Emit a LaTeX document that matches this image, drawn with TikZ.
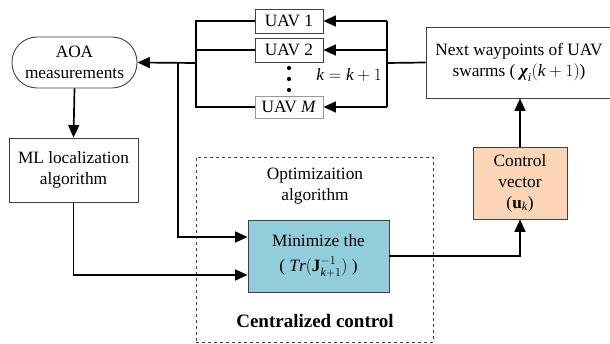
\documentclass[tikz,border=0pt]{standalone}
\usepackage{amsmath}
\usepackage{fontspec}
\setmainfont{Liberation Serif}
\usetikzlibrary{arrows.meta,calc}
\definecolor{minblue}{HTML}{92CDDC}
\definecolor{ctrlpeach}{HTML}{FBD5B5}
\definecolor{edge}{HTML}{404040}
\newcommand{\boldchi}{\text{\bfseries\itshape χ}}
\begin{document}
\begin{tikzpicture}[x=1pt,y=-1pt,
  font=\fontsize{17.3}{21}\selectfont,
  box/.style={draw=edge, line width=0.9pt, align=center, inner sep=0pt},
  wire/.style={line width=1.7pt, black},
  flow/.style={wire, -{Triangle[length=12.5pt,width=11pt]}},
  dotmark/.style={circle, fill=black, inner sep=1.5pt}]
\useasboundingbox (0,0) rectangle (610,344);

% UAV swarm
\node[box, minimum width=68pt, minimum height=24pt] (u1) at (289,21) {UAV 1};
\node[box, minimum width=68pt, minimum height=24pt] (u2) at (289,50) {UAV 2};
\node[box, draw=black!40, minimum width=68pt, minimum height=22pt] (um) at (289,107) {UAV \textit{M}};
\node[dotmark] (d1) at (289,68) {};
\node[dotmark] (d2) at (289,79) {};
\node[dotmark] (d3) at (289,90) {};
\node (kk) at (349,75) {$\mathit{k} = \mathit{k}+1$};

% left-hand blocks
\node[box, rounded corners=25pt, minimum width=125pt, minimum height=51pt] (aoa) at (74.5,62.5) {AOA\\measurements};
\node[box, minimum width=129pt, minimum height=64pt] (ml) at (73.5,170) {ML localization\\algorithm};

% centralized control
\node[draw=edge, dashed, line width=0.8pt, minimum width=237pt, minimum height=185pt, inner sep=0pt] (cc) at (314.5,249.5) {};
\node[align=center] (opt) at (315,186) {Optimizaition\\algorithm};
\node[box, fill=minblue, minimum width=141pt, minimum height=72pt] (min) at (318.5,256) {Minimize the\\[4pt]( $\mathit{Tr}(\mathbf{J}^{-1}_{\mathit{k}+1})$ )};
\node[font=\fontsize{19}{22}\selectfont\bfseries] (ccl) at (315,321) {Centralized control};

% right-hand blocks
\node[box, fill=ctrlpeach, minimum width=94pt, minimum height=72pt] (ctrl) at (520,183) {Control\\vector\\($\mathbf{u}_{\mathit{k}}$)};
\node[box, minimum width=186pt, minimum height=71pt] (next) at (519,62.5) {Next waypoints of UAV\\swarms ( $\boldchi_{\mathit{i}}(\mathit{k}+1)$)};

% buses
\coordinate (lb) at (196,63);
\coordinate (tap) at (178,63);
\coordinate (rb) at (387,63);

% UAVs to the AOA block
\draw[wire] (u1.west) -- (u1.west -| lb) -- (um.west -| lb) -- (um.west);
\draw[wire] (u2.west) -- (u2.west -| lb);
\draw[flow] (lb) -- (aoa.east);
\draw[flow] (aoa.south) -- (ml.north);
\draw[flow] (tap) |- ($(min.west)+(0,-19)$);
\draw[flow] (ml.south) |- ($(min.west)+(0,19)$);

% control loop
\draw[flow] (min.east) -| (ctrl.south);
\draw[flow] (ctrl.north) -- (ctrl.north |- next.south);
\draw[wire] (next.west) -- (rb);
\draw[wire] (rb |- u1.east) -- (rb |- um.east);
\draw[flow] (rb |- u1.east) -- (u1.east);
\draw[flow] (rb |- u2.east) -- (u2.east);
\draw[flow] (rb |- um.east) -- (um.east);
\end{tikzpicture}
\end{document}
